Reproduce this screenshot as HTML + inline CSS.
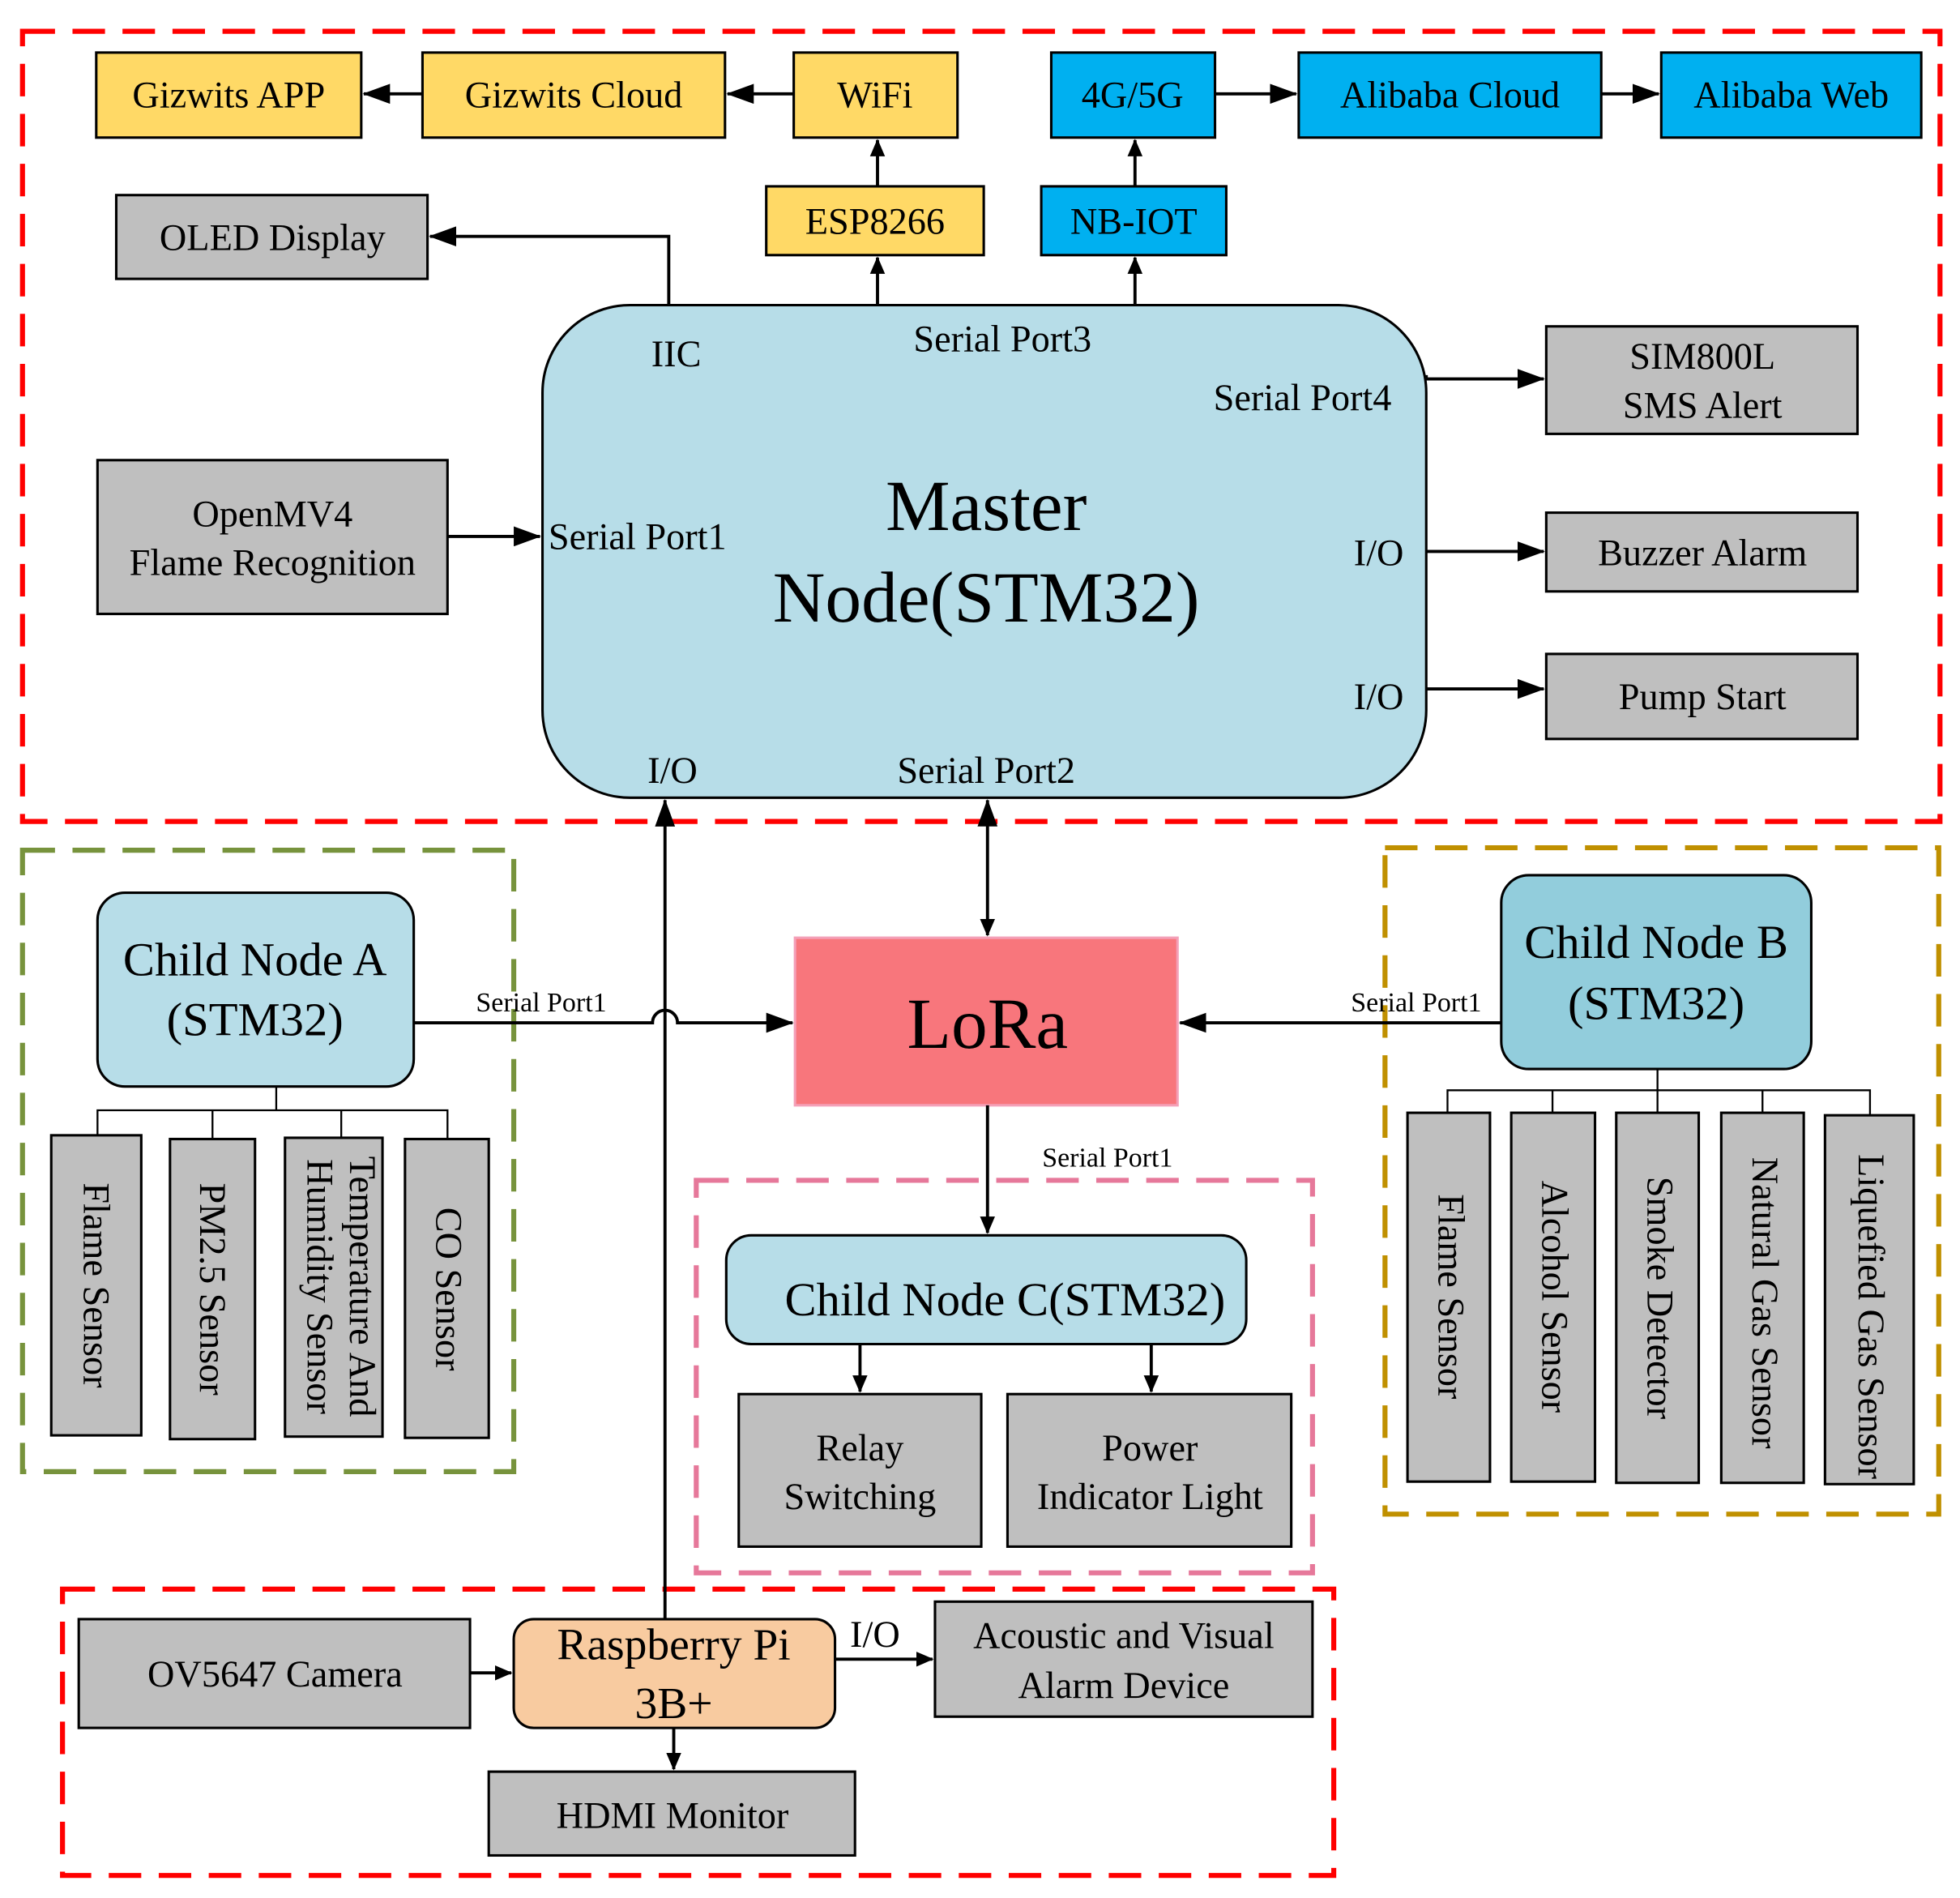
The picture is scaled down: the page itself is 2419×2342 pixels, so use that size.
<!DOCTYPE html>
<html><head><meta charset="utf-8"><style>
html,body{margin:0;padding:0;background:#fff;}
svg{display:block;font-family:"Liberation Serif","Times New Roman",serif;}
svg text{font-family:"Liberation Serif","Times New Roman",serif;fill:#000;}
</style></head><body>
<svg width="2419" height="2342" viewBox="0 0 1568 1518" xmlns="http://www.w3.org/2000/svg" font-family="Liberation Serif, serif">
<defs>
<marker id="a" markerWidth="14" markerHeight="12" refX="13" refY="6" orient="auto" markerUnits="userSpaceOnUse"><path d="M0,0 L14,6 L0,12 Z" fill="#000"/></marker>
<marker id="b" markerWidth="22" markerHeight="16" refX="21" refY="8" orient="auto" markerUnits="userSpaceOnUse"><path d="M0,0 L22,8 L0,16 Z" fill="#000"/></marker>
<marker id="bs" markerWidth="22" markerHeight="16" refX="1" refY="8" orient="auto" markerUnits="userSpaceOnUse"><path d="M22,0 L0,8 L22,16 Z" fill="#000"/></marker>
</defs>
<g fill="none" stroke-width="4" stroke-dasharray="26,14">
<rect x="18" y="25" width="1534" height="632" stroke="#ff0000"/>
<rect x="18" y="680" width="393" height="497" stroke="#77933c"/>
<rect x="1108" y="678" width="443" height="533" stroke="#c09000"/>
<rect x="557" y="944" width="493" height="314" stroke="#e6789a"/>
<rect x="50" y="1271" width="1017" height="229" stroke="#ff0000"/>
</g>
<g stroke="#000" stroke-width="2">
<rect x="77" y="42" width="212" height="68" fill="#ffd966"/>
<rect x="338" y="42" width="242" height="68" fill="#ffd966"/>
<rect x="635" y="42" width="131" height="68" fill="#ffd966"/>
<rect x="613" y="149" width="174" height="55" fill="#ffd966"/>
<rect x="841" y="42" width="131" height="68" fill="#00b0f0"/>
<rect x="1039" y="42" width="242" height="68" fill="#00b0f0"/>
<rect x="1329" y="42" width="208" height="68" fill="#00b0f0"/>
<rect x="833" y="149" width="148" height="55" fill="#00b0f0"/>
<rect x="93" y="156" width="249" height="67" fill="#bfbfbf"/>
<rect x="434" y="244" width="707" height="394" rx="70" fill="#b7dde8"/>
<rect x="78" y="368" width="280" height="123" fill="#bfbfbf"/>
<rect x="1237" y="261" width="249" height="86" fill="#bfbfbf"/>
<rect x="1237" y="410" width="249" height="63" fill="#bfbfbf"/>
<rect x="1237" y="523" width="249" height="68" fill="#bfbfbf"/>
<rect x="78" y="714" width="253" height="155" rx="22" fill="#b7dde8"/>
<rect x="41" y="908" width="72" height="240" fill="#bfbfbf"/>
<rect x="136" y="911" width="68" height="240" fill="#bfbfbf"/>
<rect x="228" y="910" width="78" height="239" fill="#bfbfbf"/>
<rect x="324" y="911" width="67" height="239" fill="#bfbfbf"/>
<rect x="1201" y="700" width="248" height="155" rx="22" fill="#92cddc"/>
<rect x="1126" y="890" width="66" height="295" fill="#bfbfbf"/>
<rect x="1209" y="890" width="67" height="295" fill="#bfbfbf"/>
<rect x="1293" y="890" width="66" height="296" fill="#bfbfbf"/>
<rect x="1377" y="890" width="66" height="296" fill="#bfbfbf"/>
<rect x="1460" y="892" width="71" height="295" fill="#bfbfbf"/>
<rect x="581" y="988" width="416" height="87" rx="20" fill="#b7dde8"/>
<rect x="591" y="1115" width="194" height="122" fill="#bfbfbf"/>
<rect x="806" y="1115" width="227" height="122" fill="#bfbfbf"/>
<rect x="63" y="1295" width="313" height="87" fill="#bfbfbf"/>
<rect x="411" y="1295" width="257" height="87" rx="16" fill="#f8cba0"/>
<rect x="748" y="1281" width="302" height="92" fill="#bfbfbf"/>
<rect x="391" y="1417" width="293" height="67" fill="#bfbfbf"/>
</g>
<rect x="636" y="750" width="306" height="134" fill="#f8767c" stroke="#f4a0b8" stroke-width="2"/>
<g stroke="#000" stroke-width="2.5" fill="none">
<line x1="635" y1="75" x2="582" y2="75" marker-end="url(#b)"/>
<line x1="338" y1="75" x2="291" y2="75" marker-end="url(#b)"/>
<line x1="972" y1="75" x2="1037" y2="75" marker-end="url(#b)"/>
<line x1="1281" y1="75" x2="1327" y2="75" marker-end="url(#b)"/>
<line x1="702" y1="149" x2="702" y2="112" marker-end="url(#a)"/>
<line x1="908" y1="149" x2="908" y2="112" marker-end="url(#a)"/>
<line x1="702" y1="244" x2="702" y2="206" marker-end="url(#a)"/>
<line x1="908" y1="244" x2="908" y2="206" marker-end="url(#a)"/>
<polyline points="535,244 535,189 344,189" marker-end="url(#b)"/>
<line x1="358" y1="429" x2="432" y2="429" marker-end="url(#b)"/>
<polyline points="1141,300 1141,303 1235,303" marker-end="url(#b)"/>
<line x1="1141" y1="441" x2="1235" y2="441" marker-end="url(#b)"/>
<line x1="1141" y1="551" x2="1235" y2="551" marker-end="url(#b)"/>
<line x1="790" y1="640" x2="790" y2="748" marker-start="url(#bs)" marker-end="url(#a)"/>
<path d="M331,818 L522,818 A10,10 0 0 1 542,818 L634,818" marker-end="url(#b)"/>
<line x1="532" y1="1295" x2="532" y2="640" marker-end="url(#b)"/>
<line x1="1201" y1="818" x2="944" y2="818" marker-end="url(#b)"/>
<line x1="790" y1="884" x2="790" y2="986" marker-end="url(#a)"/>
<line x1="688" y1="1075" x2="688" y2="1113" marker-end="url(#a)"/>
<line x1="921" y1="1075" x2="921" y2="1113" marker-end="url(#a)"/>
<line x1="376" y1="1338" x2="409" y2="1338" marker-end="url(#a)"/>
<line x1="668" y1="1327" x2="746" y2="1327" marker-end="url(#a)"/>
<line x1="539" y1="1382" x2="539" y2="1415" marker-end="url(#a)"/>
</g>
<g stroke="#000" stroke-width="1.5" fill="none">
<polyline points="221,869 221,888"/><polyline points="78,908 78,888 358,888 358,911"/>
<line x1="170" y1="888" x2="170" y2="911"/><line x1="273" y1="888" x2="273" y2="910"/>
<polyline points="1326,855 1326,872"/><polyline points="1158,890 1158,872 1496,872 1496,892"/>
<line x1="1242" y1="872" x2="1242" y2="890"/><line x1="1326" y1="872" x2="1326" y2="890"/><line x1="1410" y1="872" x2="1410" y2="890"/>
</g>
<g font-size="30" text-anchor="middle" font-family="Liberation Serif, serif">
<text x="183" y="86">Gizwits APP</text>
<text x="459" y="86">Gizwits Cloud</text>
<text x="700" y="86">WiFi</text>
<text x="906" y="86">4G/5G</text>
<text x="1160" y="86">Alibaba Cloud</text>
<text x="1433" y="86">Alibaba Web</text>
<text x="700" y="187">ESP8266</text>
<text x="907" y="187">NB-IOT</text>
<text x="218" y="200">OLED Display</text>
<text x="218" y="421">OpenMV4</text>
<text x="218" y="460">Flame Recognition</text>
<text x="1362" y="295">SIM800L</text>
<text x="1362" y="334">SMS Alert</text>
<text x="1362" y="452">Buzzer Alarm</text>
<text x="1362" y="567">Pump Start</text>
<text x="541" y="293">IIC</text>
<text x="802" y="281">Serial Port3</text>
<text x="1042" y="328">Serial Port4</text>
<text x="510" y="439">Serial Port1</text>
<text x="1103" y="452">I/O</text>
<text x="1103" y="567">I/O</text>
<text x="538" y="626">I/O</text>
<text x="789" y="626">Serial Port2</text>
<text x="688" y="1168">Relay</text>
<text x="688" y="1207">Switching</text>
<text x="920" y="1168">Power</text>
<text x="920" y="1207">Indicator Light</text>
<text x="220" y="1349">OV5647 Camera</text>
<text x="899" y="1318">Acoustic and Visual</text>
<text x="899" y="1358">Alarm Device</text>
<text x="538" y="1462">HDMI Monitor</text>
<text x="700" y="1317">I/O</text>
</g>
<g font-size="58" text-anchor="middle" font-family="Liberation Serif, serif">
<text x="789" y="424">Master</text>
<text x="789" y="497">Node(STM32)</text>
<text x="790" y="838">LoRa</text>
</g>
<g font-size="38" text-anchor="middle" font-family="Liberation Serif, serif">
<text x="204" y="780">Child Node A</text>
<text x="204" y="828">(STM32)</text>
<text x="1325" y="766">Child Node B</text>
<text x="1325" y="815">(STM32)</text>
<text x="804" y="1052">Child Node C(STM32)</text>
<text x="539" y="1327" font-size="36">Raspberry Pi</text>
<text x="539" y="1374" font-size="36">3B+</text>
</g>
<g font-size="22" text-anchor="middle" font-family="Liberation Serif, serif">
<text x="433" y="809">Serial Port1</text>
<text x="1133" y="809">Serial Port1</text>
<text x="886" y="933">Serial Port1</text>
</g>
<g font-size="30" text-anchor="middle" font-family="Liberation Serif, serif">
<text transform="translate(67,1028) rotate(90)">Flame Sensor</text>
<text transform="translate(160,1031) rotate(90)">PM2.5 Sensor</text>
<text transform="translate(280,1029) rotate(90)">Temperature And</text>
<text transform="translate(246,1029) rotate(90)">Humidity Sensor</text>
<text transform="translate(349,1031) rotate(90)">CO Sensor</text>
<text transform="translate(1151,1037) rotate(90)">Flame Sensor</text>
<text transform="translate(1234,1037) rotate(90)">Alcohol Sensor</text>
<text transform="translate(1318,1038) rotate(90)">Smoke Detector</text>
<text transform="translate(1402,1042) rotate(90)">Natural Gas Sensor</text>
<text transform="translate(1487,1053) rotate(90)">Liquefied Gas Sensor</text>
</g>
</svg>
</body></html>
